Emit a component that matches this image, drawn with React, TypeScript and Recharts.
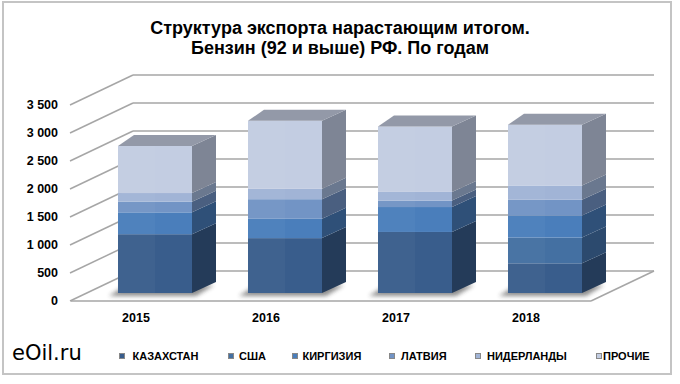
import React from 'react';
import { BarChart, Bar, XAxis, YAxis, CartesianGrid } from 'recharts';

// ---- data ----
const years = ['2015', '2016', '2017', '2018'];
const kazakhstan = [1050, 980, 1090, 530];
const usa = [0, 0, 0, 460];
const kirgizia = [390, 345, 445, 395];
const latvia = [190, 350, 115, 280];
const netherlands = [155, 185, 155, 255];
const other = [840, 1215, 1170, 1085];
const yTicks = [0, 500, 1000, 1500, 2000, 2500, 3000, 3500];
const seriesNames = ['КАЗАХСТАН', 'США', 'КИРГИЗИЯ', 'ЛАТВИЯ', 'НИДЕРЛАНДЫ', 'ПРОЧИЕ'];
const seriesKeys = ['kz', 'us', 'kg', 'lv', 'nl', 'ot'];

const data = years.map((year, i) => ({
  year,
  kz: kazakhstan[i],
  us: usa[i],
  kg: kirgizia[i],
  lv: latvia[i],
  nl: netherlands[i],
  ot: other[i],
}));

// ---- styles ----
const FRONT = ['#395D8C', '#4470A2', '#4A7EBB', '#7294C5', '#A1B4D6', '#C3CDE2'];
const SIDE = ['#243B59', '#2C4A6E', '#2F5078', '#4A5F80', '#6A788F', '#7E8595'];
const TOP = '#9399A8';
const GRID = '#A6A6A6';
const FONT = '"Liberation Sans", Arial, sans-serif';

// 3D geometry (style constants)
const WALL_DX = 63;
const WALL_DY = 30;
const BAR_SHIFT_X = 19;
const BAR_SHIFT_Y = -8;
const DX_L = 16;
const DX_R = 24;
const DY = 11;

const fmt = (n: number) =>
  n >= 1000 ? `${Math.floor(n / 1000)} ${String(n % 1000).padStart(3, '0')}` : String(n);

function makeShape(idx: number, isLast: boolean) {
  return (p: any) => {
    const h = p.height;
    if (!h || h <= 0) return <g />;
    const x = p.x + BAR_SHIFT_X;
    const y = p.y + BAR_SHIFT_Y;
    const w = p.width;
    const b = y + h;
    return (
      <g>
        {idx === 0 && (
          <polygon
            points={`${x - 9},${b + 3} ${x + w + 4},${b + 3} ${x + w + 22},${b - 8} ${x + 8},${b - 8}`}
            fill="#333"
            opacity={0.55}
            filter="url(#shadowBlur)"
          />
        )}
        <polygon
          points={`${x + w},${y} ${x + w + DX_R},${y - DY} ${x + w + DX_R},${b - DY} ${x + w},${b}`}
          fill={SIDE[idx]}
        />
        <rect x={x} y={y} width={w} height={h} fill={FRONT[idx]} />
        <rect x={x} y={y} width={w * 0.5} height={h} fill="#ffffff" opacity={0.03} />
        {isLast && (
          <polygon
            points={`${x},${y} ${x + w},${y} ${x + w + DX_R},${y - DY} ${x + DX_L},${y - DY}`}
            fill={TOP}
          />
        )}
      </g>
    );
  };
}

const gridLine = (p: any) => {
  const { x1, y1, x2 } = p;
  const isBottom = Math.abs(y1 - (p.y + p.height)) < 1;
  return (
    <g key={p.key}>
      <line x1={x1 - 1} y1={y1} x2={x1 + WALL_DX - 1} y2={y1 - WALL_DY} stroke={GRID} strokeWidth={1.5} />
      <line x1={x1 + WALL_DX - 1} y1={y1 - WALL_DY} x2={x2 + WALL_DX} y2={y1 - WALL_DY} stroke={GRID} strokeWidth={1.5} />
      {isBottom && (
        <line x1={x2} y1={y1} x2={x2 + WALL_DX} y2={y1 - WALL_DY} stroke={GRID} strokeWidth={1.5} />
      )}
    </g>
  );
};

const YTick = (p: any) => (
  <text
    x={p.x}
    y={p.y}
    dy="0.35em"
    textAnchor="end"
    fontFamily={FONT}
    fontSize={12.5}
    fontWeight="bold"
    fill="#000"
  >
    {fmt(p.payload.value)}
  </text>
);

const XTick = (p: any) => (
  <text
    x={p.x}
    y={p.y}
    dy="0.71em"
    textAnchor="middle"
    fontFamily={FONT}
    fontSize={12.5}
    fontWeight="bold"
    fill="#000"
  >
    {p.payload.value}
  </text>
);

const legendSquareX = [119, 228, 292, 389, 475, 596];
const legendTextX = [132.5, 239, 302.5, 401, 487, 603];

export default function App() {
  return (
    <div
      style={{
        position: 'absolute',
        left: 0,
        top: 0,
        width: 680,
        height: 384,
        background: '#fff',
        fontFamily: FONT,
        overflow: 'hidden',
      }}
    >
      <svg width={0} height={0} style={{ position: 'absolute' }}>
        <defs>
          <filter id="shadowBlur" x="-20%" y="-50%" width="140%" height="200%">
            <feGaussianBlur stdDeviation="2" />
          </filter>
        </defs>
      </svg>
      <BarChart
        width={680}
        height={384}
        data={data}
        margin={{ top: 105, right: 89, bottom: 0, left: 0 }}
        barSize={74}
      >
        <CartesianGrid vertical={false} horizontal={gridLine} />
        <XAxis
          dataKey="year"
          height={83}
          tickLine={false}
          tickMargin={6}
          axisLine={{ stroke: GRID, strokeWidth: 1.5 }}
          tick={<XTick />}
          interval={0}
        />
        <YAxis
          width={71}
          domain={[0, 3500]}
          ticks={yTicks}
          axisLine={false}
          tickLine={false}
          tickMargin={7}
          tick={<YTick />}
          interval={0}
        />
        {seriesKeys.map((k, i) => (
          <Bar
            key={k}
            dataKey={k}
            name={seriesNames[i]}
            stackId="a"
            fill={FRONT[i]}
            isAnimationActive={false}
            shape={makeShape(i, i === seriesKeys.length - 1)}
          />
        ))}
      </BarChart>

      {/* border */}
      <div
        style={{
          position: 'absolute',
          left: 2,
          top: 1,
          width: 670,
          height: 374,
          border: '2px solid #C4C4C4',
          boxSizing: 'border-box',
          pointerEvents: 'none',
        }}
      />

      {/* title */}
      <div
        style={{
          position: 'absolute',
          left: 0,
          top: 18,
          width: 680,
          textAlign: 'center',
          fontSize: 18,
          fontWeight: 'bold',
          lineHeight: '20px',
          color: '#000',
        }}
      >
        Структура экспорта нарастающим итогом.
        <br />
        Бензин (92 и выше) РФ. По годам
      </div>

      {/* watermark */}
      <div
        style={{
          position: 'absolute',
          left: 12,
          top: 343,
          fontFamily: '"DejaVu Sans", Verdana, sans-serif',
          fontSize: 21,
          lineHeight: '21px',
          color: '#000',
        }}
      >
        eOil.ru
      </div>

      {/* legend */}
      {seriesNames.map((name, i) => (
        <React.Fragment key={name}>
          <div
            style={{
              position: 'absolute',
              left: legendSquareX[i],
              top: 353,
              width: 6,
              height: 6,
              background: FRONT[i],
              border: '0.5px solid #888',
              boxSizing: 'border-box',
            }}
          />
          <div
            style={{
              position: 'absolute',
              left: legendTextX[i],
              top: 350,
              fontSize: 11,
              fontWeight: 'bold',
              lineHeight: '12px',
              color: '#000',
              whiteSpace: 'nowrap',
            }}
          >
            {name}
          </div>
        </React.Fragment>
      ))}
    </div>
  );
}
